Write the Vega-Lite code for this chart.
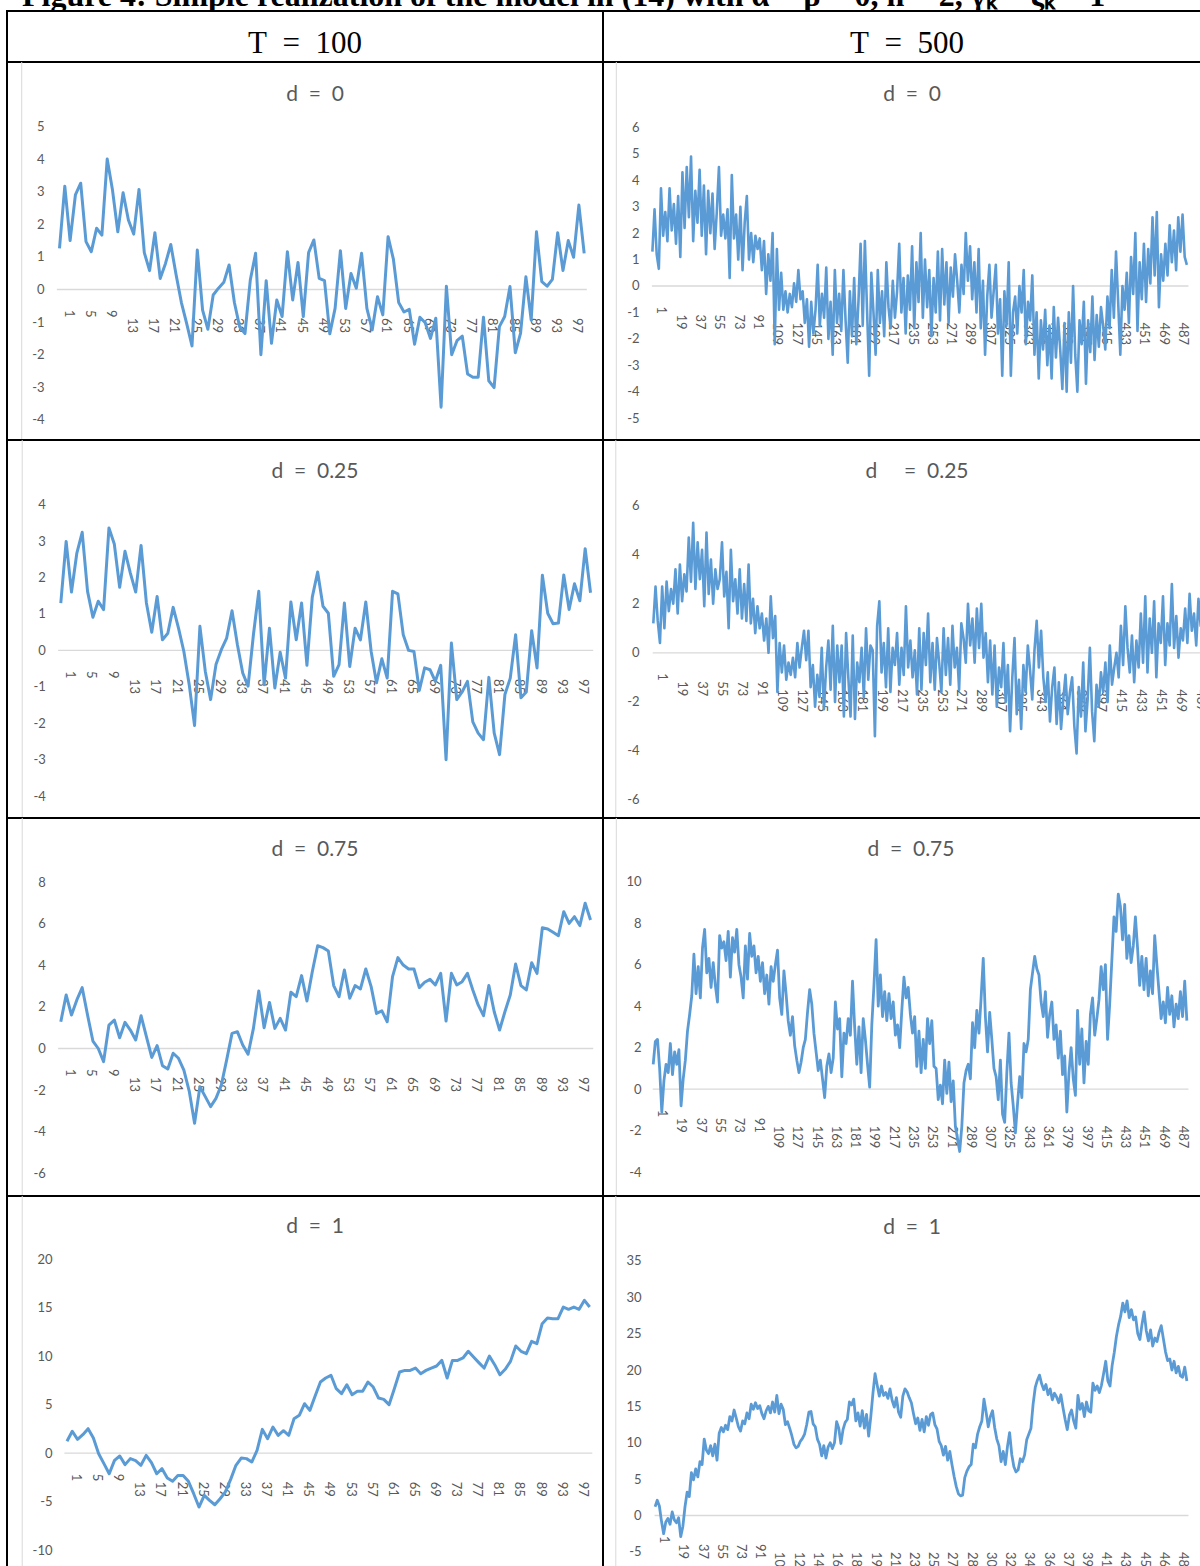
{
  "$schema": "https://vega.github.io/schema/vega-lite/v6.json",
  "usermeta": {"embedOptions": {"actions": false}},
  "background": "white",
  "padding": {"left": 6, "top": 0, "right": 0, "bottom": 0},
  "columns": 2,
  "spacing": 0,
  "bounds": "flush",
  "config": {
    "view": {"stroke": "#000000", "strokeWidth": 2},
    "axis": {"domain": false, "ticks": false, "tickSize": 0, "tickCount": 1000, "grid": false, "labelFont": "Lato", "labelFontSize": 13, "labelColor": "#595959", "labelOverlap": false, "labelFlush": false, "labelBound": false},
    "title": {"font": "Lato", "fontSize": 21, "fontWeight": "normal", "color": "#595959", "anchor": "middle", "frame": "group", "baseline": "alphabetic"},
    "concat": {"spacing": 0}
  },
  "datasets": {
    "r1l": [{"t":1,"v":1.26},{"t":2,"v":3.17},{"t":3,"v":1.5},{"t":4,"v":2.9},{"t":5,"v":3.26},{"t":6,"v":1.47},{"t":7,"v":1.16},{"t":8,"v":1.88},{"t":9,"v":1.67},{"t":10,"v":4.0},{"t":11,"v":3.05},{"t":12,"v":1.77},{"t":13,"v":2.97},{"t":14,"v":2.13},{"t":15,"v":1.7},{"t":16,"v":3.07},{"t":17,"v":1.13},{"t":18,"v":0.58},{"t":19,"v":1.74},{"t":20,"v":0.34},{"t":21,"v":0.8},{"t":22,"v":1.38},{"t":23,"v":0.45},{"t":24,"v":-0.4},{"t":25,"v":-1.05},{"t":26,"v":-1.73},{"t":27,"v":1.21},{"t":28,"v":-0.63},{"t":29,"v":-1.22},{"t":30,"v":-0.17},{"t":31,"v":0.04},{"t":32,"v":0.22},{"t":33,"v":0.75},{"t":34,"v":-0.4},{"t":35,"v":-1.15},{"t":36,"v":-1.35},{"t":37,"v":0.29},{"t":38,"v":1.11},{"t":39,"v":-2.0},{"t":40,"v":0.27},{"t":41,"v":-1.65},{"t":42,"v":-0.32},{"t":43,"v":-0.83},{"t":44,"v":1.16},{"t":45,"v":-0.32},{"t":46,"v":0.83},{"t":47,"v":-0.83},{"t":48,"v":1.13},{"t":49,"v":1.52},{"t":50,"v":0.34},{"t":51,"v":0.27},{"t":52,"v":-1.36},{"t":53,"v":-0.58},{"t":54,"v":1.19},{"t":55,"v":-0.58},{"t":56,"v":0.49},{"t":57,"v":0.04},{"t":58,"v":1.11},{"t":59,"v":-0.58},{"t":60,"v":-1.24},{"t":61,"v":-0.22},{"t":62,"v":-0.78},{"t":63,"v":1.62},{"t":64,"v":0.93},{"t":65,"v":-0.4},{"t":66,"v":-0.69},{"t":67,"v":-0.61},{"t":68,"v":-1.68},{"t":69,"v":-0.85},{"t":70,"v":-1.02},{"t":71,"v":-1.5},{"t":72,"v":-0.88},{"t":73,"v":-3.61},{"t":74,"v":0.1},{"t":75,"v":-2.0},{"t":76,"v":-1.57},{"t":77,"v":-1.43},{"t":78,"v":-2.59},{"t":79,"v":-2.69},{"t":80,"v":-2.69},{"t":81,"v":-0.85},{"t":82,"v":-2.8},{"t":83,"v":-3.01},{"t":84,"v":-1.14},{"t":85,"v":-0.83},{"t":86,"v":0.09},{"t":87,"v":-1.94},{"t":88,"v":-1.34},{"t":89,"v":0.39},{"t":90,"v":-0.94},{"t":91,"v":1.77},{"t":92,"v":0.24},{"t":93,"v":0.1},{"t":94,"v":0.31},{"t":95,"v":1.74},{"t":96,"v":0.58},{"t":97,"v":1.5},{"t":98,"v":0.99},{"t":99,"v":2.59},{"t":100,"v":1.11}],
    "r2l": [{"t":1,"v":1.3},{"t":2,"v":2.99},{"t":3,"v":1.6},{"t":4,"v":2.67},{"t":5,"v":3.24},{"t":6,"v":1.62},{"t":7,"v":0.91},{"t":8,"v":1.35},{"t":9,"v":1.12},{"t":10,"v":3.36},{"t":11,"v":2.92},{"t":12,"v":1.73},{"t":13,"v":2.72},{"t":14,"v":2.12},{"t":15,"v":1.6},{"t":16,"v":2.88},{"t":17,"v":1.3},{"t":18,"v":0.5},{"t":19,"v":1.48},{"t":20,"v":0.29},{"t":21,"v":0.47},{"t":22,"v":1.18},{"t":23,"v":0.61},{"t":24,"v":-0.03},{"t":25,"v":-0.94},{"t":26,"v":-2.06},{"t":27,"v":0.66},{"t":28,"v":-0.57},{"t":29,"v":-1.35},{"t":30,"v":-0.39},{"t":31,"v":0.02},{"t":32,"v":0.34},{"t":33,"v":1.09},{"t":34,"v":0.16},{"t":35,"v":-0.62},{"t":36,"v":-0.98},{"t":37,"v":0.43},{"t":38,"v":1.62},{"t":39,"v":-0.94},{"t":40,"v":0.61},{"t":41,"v":-1.03},{"t":42,"v":-0.05},{"t":43,"v":-0.76},{"t":44,"v":1.33},{"t":45,"v":0.29},{"t":46,"v":1.3},{"t":47,"v":-0.41},{"t":48,"v":1.46},{"t":49,"v":2.15},{"t":50,"v":1.21},{"t":51,"v":1.02},{"t":52,"v":-0.71},{"t":53,"v":-0.39},{"t":54,"v":1.3},{"t":55,"v":-0.44},{"t":56,"v":0.61},{"t":57,"v":0.29},{"t":58,"v":1.33},{"t":59,"v":-0.03},{"t":60,"v":-0.89},{"t":61,"v":-0.23},{"t":62,"v":-0.76},{"t":63,"v":1.62},{"t":64,"v":1.55},{"t":65,"v":0.43},{"t":66,"v":0.0},{"t":67,"v":-0.03},{"t":68,"v":-1.1},{"t":69,"v":-0.48},{"t":70,"v":-0.53},{"t":71,"v":-0.85},{"t":72,"v":-0.41},{"t":73,"v":-3.0},{"t":74,"v":0.2},{"t":75,"v":-1.35},{"t":76,"v":-1.14},{"t":77,"v":-0.85},{"t":78,"v":-1.96},{"t":79,"v":-2.27},{"t":80,"v":-2.45},{"t":81,"v":-0.74},{"t":82,"v":-2.27},{"t":83,"v":-2.86},{"t":84,"v":-1.21},{"t":85,"v":-0.76},{"t":86,"v":0.43},{"t":87,"v":-1.3},{"t":88,"v":-1.14},{"t":89,"v":0.54},{"t":90,"v":-0.48},{"t":91,"v":2.06},{"t":92,"v":1.02},{"t":93,"v":0.73},{"t":94,"v":0.75},{"t":95,"v":2.07},{"t":96,"v":1.12},{"t":97,"v":1.83},{"t":98,"v":1.36},{"t":99,"v":2.79},{"t":100,"v":1.58}],
    "r3l": [{"t":1,"v":1.29},{"t":2,"v":2.58},{"t":3,"v":1.61},{"t":4,"v":2.34},{"t":5,"v":2.93},{"t":6,"v":1.61},{"t":7,"v":0.36},{"t":8,"v":0.0},{"t":9,"v":-0.63},{"t":10,"v":1.13},{"t":11,"v":1.37},{"t":12,"v":0.52},{"t":13,"v":1.26},{"t":14,"v":0.89},{"t":15,"v":0.41},{"t":16,"v":1.58},{"t":17,"v":0.57},{"t":18,"v":-0.43},{"t":19,"v":0.14},{"t":20,"v":-0.83},{"t":21,"v":-0.99},{"t":22,"v":-0.23},{"t":23,"v":-0.47},{"t":24,"v":-1.04},{"t":25,"v":-2.05},{"t":26,"v":-3.6},{"t":27,"v":-1.84},{"t":28,"v":-2.32},{"t":29,"v":-2.8},{"t":30,"v":-2.4},{"t":31,"v":-1.76},{"t":32,"v":-0.55},{"t":33,"v":0.73},{"t":34,"v":0.81},{"t":35,"v":0.17},{"t":36,"v":-0.28},{"t":37,"v":0.97},{"t":38,"v":2.77},{"t":39,"v":1.0},{"t":40,"v":2.22},{"t":41,"v":0.97},{"t":42,"v":1.45},{"t":43,"v":0.89},{"t":44,"v":2.71},{"t":45,"v":2.5},{"t":46,"v":3.51},{"t":47,"v":2.29},{"t":48,"v":3.7},{"t":49,"v":4.95},{"t":50,"v":4.86},{"t":51,"v":4.7},{"t":52,"v":3.03},{"t":53,"v":2.5},{"t":54,"v":3.78},{"t":55,"v":2.42},{"t":56,"v":3.03},{"t":57,"v":2.87},{"t":58,"v":3.83},{"t":59,"v":2.98},{"t":60,"v":1.69},{"t":61,"v":1.81},{"t":62,"v":1.29},{"t":63,"v":3.46},{"t":64,"v":4.38},{"t":65,"v":4.02},{"t":66,"v":3.83},{"t":67,"v":3.83},{"t":68,"v":2.93},{"t":69,"v":3.19},{"t":70,"v":3.33},{"t":71,"v":3.06},{"t":72,"v":3.62},{"t":73,"v":1.32},{"t":74,"v":3.62},{"t":75,"v":3.06},{"t":76,"v":3.22},{"t":77,"v":3.62},{"t":78,"v":2.82},{"t":79,"v":2.1},{"t":80,"v":1.58},{"t":81,"v":3.03},{"t":82,"v":1.77},{"t":83,"v":0.89},{"t":84,"v":1.77},{"t":85,"v":2.58},{"t":86,"v":4.07},{"t":87,"v":3.03},{"t":88,"v":2.82},{"t":89,"v":4.13},{"t":90,"v":3.62},{"t":91,"v":5.82},{"t":92,"v":5.76},{"t":93,"v":5.6},{"t":94,"v":5.43},{"t":95,"v":6.59},{"t":96,"v":6.03},{"t":97,"v":6.35},{"t":98,"v":5.92},{"t":99,"v":7.0},{"t":100,"v":6.19}],
    "r4l": [{"t":1,"v":1.23},{"t":2,"v":2.27},{"t":3,"v":1.43},{"t":4,"v":1.91},{"t":5,"v":2.53},{"t":6,"v":1.57},{"t":7,"v":-0.05},{"t":8,"v":-1.08},{"t":9,"v":-2.12},{"t":10,"v":-0.74},{"t":11,"v":-0.29},{"t":12,"v":-1.18},{"t":13,"v":-0.56},{"t":14,"v":-0.77},{"t":15,"v":-1.25},{"t":16,"v":-0.22},{"t":17,"v":-0.98},{"t":18,"v":-2.12},{"t":19,"v":-1.6},{"t":20,"v":-2.56},{"t":21,"v":-2.9},{"t":22,"v":-2.29},{"t":23,"v":-2.29},{"t":24,"v":-2.9},{"t":25,"v":-4.18},{"t":26,"v":-5.56},{"t":27,"v":-4.35},{"t":28,"v":-4.87},{"t":29,"v":-5.32},{"t":30,"v":-4.7},{"t":31,"v":-4.0},{"t":32,"v":-2.7},{"t":33,"v":-1.25},{"t":34,"v":-0.5},{"t":35,"v":-0.56},{"t":36,"v":-0.91},{"t":37,"v":0.3},{"t":38,"v":2.46},{"t":39,"v":1.5},{"t":40,"v":2.7},{"t":41,"v":1.84},{"t":42,"v":2.32},{"t":43,"v":1.84},{"t":44,"v":3.56},{"t":45,"v":3.91},{"t":46,"v":5.11},{"t":47,"v":4.42},{"t":48,"v":5.9},{"t":49,"v":7.35},{"t":50,"v":7.76},{"t":51,"v":8.04},{"t":52,"v":6.66},{"t":53,"v":6.15},{"t":54,"v":7.07},{"t":55,"v":6.04},{"t":56,"v":6.39},{"t":57,"v":6.39},{"t":58,"v":7.35},{"t":59,"v":6.83},{"t":60,"v":5.7},{"t":61,"v":5.56},{"t":62,"v":5.01},{"t":63,"v":6.66},{"t":64,"v":8.38},{"t":65,"v":8.55},{"t":66,"v":8.55},{"t":67,"v":8.79},{"t":68,"v":8.21},{"t":69,"v":8.55},{"t":70,"v":8.79},{"t":71,"v":9.0},{"t":72,"v":9.58},{"t":73,"v":7.76},{"t":74,"v":9.58},{"t":75,"v":9.58},{"t":76,"v":9.83},{"t":77,"v":10.52},{"t":78,"v":9.93},{"t":79,"v":9.35},{"t":80,"v":8.79},{"t":81,"v":10.03},{"t":82,"v":9.14},{"t":83,"v":8.1},{"t":84,"v":8.66},{"t":85,"v":9.48},{"t":86,"v":11.07},{"t":87,"v":10.52},{"t":88,"v":10.28},{"t":89,"v":11.55},{"t":90,"v":11.31},{"t":91,"v":13.37},{"t":92,"v":13.96},{"t":93,"v":13.89},{"t":94,"v":13.89},{"t":95,"v":15.09},{"t":96,"v":14.85},{"t":97,"v":15.09},{"t":98,"v":14.85},{"t":99,"v":15.78},{"t":100,"v":15.09}],
    "r1r": [{"t":1,"v":1.3},{"t":3,"v":2.9},{"t":5,"v":1.2},{"t":7,"v":0.65},{"t":9,"v":3.7},{"t":11,"v":1.9},{"t":13,"v":2.8},{"t":15,"v":1.7},{"t":17,"v":3.7},{"t":19,"v":2.1},{"t":21,"v":3.1},{"t":23,"v":1.6},{"t":25,"v":3.4},{"t":27,"v":1.1},{"t":29,"v":4.3},{"t":31,"v":2.2},{"t":33,"v":4.5},{"t":35,"v":2.6},{"t":37,"v":4.9},{"t":39,"v":1.7},{"t":41,"v":3.6},{"t":43,"v":2.4},{"t":45,"v":4.4},{"t":47,"v":1.9},{"t":49,"v":3.8},{"t":51,"v":1.2},{"t":53,"v":3.6},{"t":55,"v":2.0},{"t":57,"v":3.5},{"t":59,"v":1.4},{"t":61,"v":2.8},{"t":63,"v":4.5},{"t":65,"v":1.9},{"t":67,"v":2.7},{"t":69,"v":1.8},{"t":71,"v":2.9},{"t":73,"v":0.3},{"t":75,"v":4.2},{"t":77,"v":1.8},{"t":79,"v":2.7},{"t":81,"v":1.0},{"t":83,"v":3.0},{"t":85,"v":0.6},{"t":87,"v":2.4},{"t":89,"v":3.4},{"t":91,"v":1.0},{"t":93,"v":2.0},{"t":95,"v":0.9},{"t":97,"v":1.9},{"t":99,"v":1.4},{"t":101,"v":1.8},{"t":103,"v":0.6},{"t":105,"v":1.7},{"t":107,"v":-0.3},{"t":109,"v":1.2},{"t":111,"v":0.2},{"t":113,"v":2.0},{"t":115,"v":-2.2},{"t":117,"v":1.4},{"t":119,"v":-0.9},{"t":121,"v":0.5},{"t":123,"v":-0.9},{"t":125,"v":-0.2},{"t":127,"v":-1.0},{"t":129,"v":-0.3},{"t":131,"v":-0.8},{"t":133,"v":0.1},{"t":135,"v":-0.6},{"t":137,"v":0.6},{"t":139,"v":-0.5},{"t":141,"v":-0.2},{"t":143,"v":-1.4},{"t":145,"v":-0.5},{"t":147,"v":-2.3},{"t":149,"v":-0.6},{"t":151,"v":-1.8},{"t":153,"v":-0.9},{"t":155,"v":0.8},{"t":157,"v":-1.5},{"t":159,"v":-0.3},{"t":161,"v":-1.2},{"t":163,"v":0.7},{"t":165,"v":-2.0},{"t":167,"v":-0.6},{"t":169,"v":-2.6},{"t":171,"v":0.6},{"t":173,"v":-1.4},{"t":175,"v":-0.3},{"t":177,"v":-1.7},{"t":179,"v":0.6},{"t":181,"v":-1.3},{"t":183,"v":-2.9},{"t":185,"v":-0.2},{"t":187,"v":-1.9},{"t":189,"v":0.3},{"t":191,"v":-2.2},{"t":193,"v":-0.6},{"t":195,"v":1.6},{"t":197,"v":-1.5},{"t":199,"v":1.7},{"t":201,"v":-0.9},{"t":203,"v":-3.4},{"t":205,"v":0.5},{"t":207,"v":-1.0},{"t":209,"v":-2.6},{"t":211,"v":0.6},{"t":213,"v":-1.4},{"t":215,"v":-0.2},{"t":217,"v":-1.9},{"t":219,"v":0.9},{"t":221,"v":-0.8},{"t":223,"v":-1.6},{"t":225,"v":0.2},{"t":227,"v":-1.2},{"t":229,"v":-0.2},{"t":231,"v":1.6},{"t":233,"v":-1.0},{"t":235,"v":0.3},{"t":237,"v":-1.8},{"t":239,"v":0.4},{"t":241,"v":-0.9},{"t":243,"v":1.5},{"t":245,"v":-1.6},{"t":247,"v":0.9},{"t":249,"v":-0.6},{"t":251,"v":2.0},{"t":253,"v":-1.2},{"t":255,"v":1.0},{"t":257,"v":-0.8},{"t":259,"v":0.6},{"t":261,"v":-1.9},{"t":263,"v":0.3},{"t":265,"v":-1.0},{"t":267,"v":1.3},{"t":269,"v":-1.3},{"t":271,"v":1.4},{"t":273,"v":-0.7},{"t":275,"v":0.9},{"t":277,"v":-1.4},{"t":279,"v":0.7},{"t":281,"v":-0.4},{"t":283,"v":1.2},{"t":285,"v":0.2},{"t":287,"v":-1.0},{"t":289,"v":0.8},{"t":291,"v":-0.3},{"t":293,"v":2.0},{"t":295,"v":0.2},{"t":297,"v":1.5},{"t":299,"v":-0.5},{"t":301,"v":0.9},{"t":303,"v":-1.0},{"t":305,"v":1.4},{"t":307,"v":-1.6},{"t":309,"v":0.2},{"t":311,"v":-2.6},{"t":313,"v":-0.4},{"t":315,"v":0.8},{"t":317,"v":-1.2},{"t":319,"v":-0.2},{"t":321,"v":0.8},{"t":323,"v":-1.8},{"t":325,"v":-0.5},{"t":327,"v":-3.4},{"t":329,"v":-0.2},{"t":331,"v":-1.5},{"t":333,"v":0.9},{"t":335,"v":-3.4},{"t":337,"v":-1.0},{"t":339,"v":-0.4},{"t":341,"v":-1.8},{"t":343,"v":0.0},{"t":345,"v":-1.0},{"t":347,"v":0.6},{"t":349,"v":-2.2},{"t":351,"v":-0.6},{"t":353,"v":-1.3},{"t":355,"v":0.4},{"t":357,"v":-2.6},{"t":359,"v":-1.0},{"t":361,"v":-3.5},{"t":363,"v":-1.3},{"t":365,"v":-2.4},{"t":367,"v":-0.9},{"t":369,"v":-3.0},{"t":371,"v":-1.5},{"t":373,"v":-3.5},{"t":375,"v":-0.8},{"t":377,"v":-2.7},{"t":379,"v":-1.2},{"t":381,"v":-2.4},{"t":383,"v":-3.9},{"t":385,"v":-1.4},{"t":387,"v":-4.0},{"t":389,"v":-1.0},{"t":391,"v":-2.9},{"t":393,"v":0.0},{"t":395,"v":-2.6},{"t":397,"v":-4.0},{"t":399,"v":-1.3},{"t":401,"v":-2.2},{"t":403,"v":-0.6},{"t":405,"v":-3.7},{"t":407,"v":-1.3},{"t":409,"v":-2.5},{"t":411,"v":-0.4},{"t":413,"v":-2.8},{"t":415,"v":-1.1},{"t":417,"v":-2.3},{"t":419,"v":-0.8},{"t":421,"v":-1.5},{"t":423,"v":-2.4},{"t":425,"v":-0.4},{"t":427,"v":-1.6},{"t":429,"v":0.6},{"t":431,"v":-1.2},{"t":433,"v":1.3},{"t":435,"v":-0.6},{"t":437,"v":-2.6},{"t":439,"v":0.0},{"t":441,"v":-0.9},{"t":443,"v":0.5},{"t":445,"v":-1.4},{"t":447,"v":1.1},{"t":449,"v":-0.3},{"t":451,"v":2.0},{"t":453,"v":-1.7},{"t":455,"v":0.9},{"t":457,"v":-0.5},{"t":459,"v":1.6},{"t":461,"v":-0.6},{"t":463,"v":1.4},{"t":465,"v":0.1},{"t":467,"v":2.6},{"t":469,"v":0.4},{"t":471,"v":2.8},{"t":473,"v":-0.8},{"t":475,"v":1.2},{"t":477,"v":0.2},{"t":479,"v":1.6},{"t":481,"v":0.4},{"t":483,"v":2.3},{"t":485,"v":0.9},{"t":487,"v":2.1},{"t":489,"v":0.6},{"t":491,"v":2.6},{"t":493,"v":1.3},{"t":495,"v":2.7},{"t":497,"v":1.1},{"t":499,"v":0.8}],
    "r2r": [{"t":1,"v":1.2},{"t":3,"v":2.7},{"t":5,"v":1.3},{"t":7,"v":0.4},{"t":9,"v":2.7},{"t":11,"v":1.0},{"t":13,"v":2.9},{"t":15,"v":1.7},{"t":17,"v":2.6},{"t":19,"v":2.0},{"t":21,"v":3.4},{"t":23,"v":1.6},{"t":25,"v":3.6},{"t":27,"v":2.1},{"t":29,"v":3.2},{"t":31,"v":2.5},{"t":33,"v":4.7},{"t":35,"v":2.9},{"t":37,"v":5.3},{"t":39,"v":2.6},{"t":41,"v":4.5},{"t":43,"v":3.0},{"t":45,"v":4.2},{"t":47,"v":1.9},{"t":49,"v":4.9},{"t":51,"v":2.4},{"t":53,"v":3.8},{"t":55,"v":2.0},{"t":57,"v":3.4},{"t":59,"v":2.6},{"t":61,"v":3.0},{"t":63,"v":4.5},{"t":65,"v":2.3},{"t":67,"v":3.3},{"t":69,"v":1.0},{"t":71,"v":4.2},{"t":73,"v":2.1},{"t":75,"v":3.0},{"t":77,"v":1.6},{"t":79,"v":3.4},{"t":81,"v":1.4},{"t":83,"v":2.8},{"t":85,"v":1.3},{"t":87,"v":3.6},{"t":89,"v":1.2},{"t":91,"v":2.2},{"t":93,"v":0.8},{"t":95,"v":1.9},{"t":97,"v":1.0},{"t":99,"v":1.6},{"t":101,"v":0.5},{"t":103,"v":1.4},{"t":105,"v":0.0},{"t":107,"v":2.3},{"t":109,"v":0.6},{"t":111,"v":1.5},{"t":113,"v":-1.6},{"t":115,"v":0.4},{"t":117,"v":-0.8},{"t":119,"v":0.3},{"t":121,"v":-1.1},{"t":123,"v":-0.4},{"t":125,"v":-0.9},{"t":127,"v":-0.2},{"t":129,"v":-1.0},{"t":131,"v":0.4},{"t":133,"v":-0.6},{"t":135,"v":0.2},{"t":137,"v":0.9},{"t":139,"v":-0.3},{"t":141,"v":0.9},{"t":143,"v":-1.4},{"t":145,"v":-0.5},{"t":147,"v":-2.2},{"t":149,"v":-0.9},{"t":151,"v":-1.8},{"t":153,"v":0.2},{"t":155,"v":-2.3},{"t":157,"v":-0.6},{"t":159,"v":0.5},{"t":161,"v":-1.5},{"t":163,"v":1.1},{"t":165,"v":-2.0},{"t":167,"v":0.3},{"t":169,"v":-1.2},{"t":171,"v":0.3},{"t":173,"v":-2.6},{"t":175,"v":0.8},{"t":177,"v":-1.0},{"t":179,"v":-2.6},{"t":181,"v":0.7},{"t":183,"v":-2.7},{"t":185,"v":-0.4},{"t":187,"v":-1.2},{"t":189,"v":0.2},{"t":191,"v":-1.8},{"t":193,"v":1.0},{"t":195,"v":-1.1},{"t":197,"v":0.3},{"t":199,"v":0.1},{"t":201,"v":-3.4},{"t":203,"v":1.1},{"t":205,"v":2.1},{"t":207,"v":-0.8},{"t":209,"v":0.4},{"t":211,"v":-1.4},{"t":213,"v":1.0},{"t":215,"v":-1.6},{"t":217,"v":0.2},{"t":219,"v":-0.5},{"t":221,"v":0.8},{"t":223,"v":-1.3},{"t":225,"v":0.2},{"t":227,"v":-0.9},{"t":229,"v":1.9},{"t":231,"v":-0.6},{"t":233,"v":0.5},{"t":235,"v":-1.0},{"t":237,"v":0.1},{"t":239,"v":-1.7},{"t":241,"v":1.0},{"t":243,"v":-1.5},{"t":245,"v":0.8},{"t":247,"v":-0.5},{"t":249,"v":1.6},{"t":251,"v":-1.2},{"t":253,"v":0.4},{"t":255,"v":-1.5},{"t":257,"v":0.6},{"t":259,"v":-0.4},{"t":261,"v":-1.6},{"t":263,"v":1.0},{"t":265,"v":-0.9},{"t":267,"v":0.6},{"t":269,"v":-1.3},{"t":271,"v":1.1},{"t":273,"v":-0.6},{"t":275,"v":0.2},{"t":277,"v":-1.5},{"t":279,"v":1.2},{"t":281,"v":0.6},{"t":283,"v":-0.4},{"t":285,"v":2.0},{"t":287,"v":0.3},{"t":289,"v":1.4},{"t":291,"v":-0.4},{"t":293,"v":1.8},{"t":295,"v":0.2},{"t":297,"v":2.0},{"t":299,"v":-0.2},{"t":301,"v":0.8},{"t":303,"v":-1.2},{"t":305,"v":0.5},{"t":307,"v":-1.7},{"t":309,"v":0.3},{"t":311,"v":-2.2},{"t":313,"v":-0.6},{"t":315,"v":-1.4},{"t":317,"v":0.4},{"t":319,"v":-2.0},{"t":321,"v":-0.5},{"t":323,"v":-3.2},{"t":325,"v":-1.0},{"t":327,"v":0.6},{"t":329,"v":-2.5},{"t":331,"v":-1.1},{"t":333,"v":-3.1},{"t":335,"v":-0.5},{"t":337,"v":-1.6},{"t":339,"v":0.3},{"t":341,"v":-0.7},{"t":343,"v":-1.9},{"t":345,"v":0.1},{"t":347,"v":1.3},{"t":349,"v":-0.6},{"t":351,"v":0.9},{"t":353,"v":-1.0},{"t":355,"v":-2.0},{"t":357,"v":-0.8},{"t":359,"v":-2.8},{"t":361,"v":-1.4},{"t":363,"v":-0.6},{"t":365,"v":-2.9},{"t":367,"v":-1.2},{"t":369,"v":-3.1},{"t":371,"v":-1.9},{"t":373,"v":-0.9},{"t":375,"v":-2.5},{"t":377,"v":-1.6},{"t":379,"v":-1.0},{"t":381,"v":-3.0},{"t":383,"v":-4.1},{"t":385,"v":-1.4},{"t":387,"v":-2.6},{"t":389,"v":-0.4},{"t":391,"v":-3.2},{"t":393,"v":-1.9},{"t":395,"v":0.2},{"t":397,"v":-2.4},{"t":399,"v":-3.6},{"t":401,"v":-1.3},{"t":403,"v":-2.2},{"t":405,"v":-0.8},{"t":407,"v":-1.6},{"t":409,"v":-0.4},{"t":411,"v":-2.0},{"t":413,"v":0.3},{"t":415,"v":-1.3},{"t":417,"v":-0.6},{"t":419,"v":0.0},{"t":421,"v":-1.0},{"t":423,"v":1.1},{"t":425,"v":-0.5},{"t":427,"v":1.9},{"t":429,"v":0.2},{"t":431,"v":-0.8},{"t":433,"v":0.7},{"t":435,"v":-1.2},{"t":437,"v":0.5},{"t":439,"v":-0.6},{"t":441,"v":1.6},{"t":443,"v":-0.4},{"t":445,"v":2.3},{"t":447,"v":-0.8},{"t":449,"v":1.4},{"t":451,"v":0.0},{"t":453,"v":2.1},{"t":455,"v":-1.0},{"t":457,"v":1.2},{"t":459,"v":0.4},{"t":461,"v":2.3},{"t":463,"v":-0.5},{"t":465,"v":1.2},{"t":467,"v":0.3},{"t":469,"v":2.8},{"t":471,"v":0.2},{"t":473,"v":1.5},{"t":475,"v":-0.2},{"t":477,"v":1.0},{"t":479,"v":0.5},{"t":481,"v":1.8},{"t":483,"v":0.4},{"t":485,"v":2.4},{"t":487,"v":0.9},{"t":489,"v":1.6},{"t":491,"v":0.3},{"t":493,"v":2.2},{"t":495,"v":1.1},{"t":497,"v":1.7},{"t":499,"v":1.0}],
    "r3r": [{"t":1,"v":1.2},{"t":3,"v":2.3},{"t":5,"v":2.4},{"t":7,"v":1.0},{"t":9,"v":-1.1},{"t":11,"v":0.4},{"t":13,"v":1.2},{"t":15,"v":0.8},{"t":17,"v":2.2},{"t":19,"v":0.7},{"t":21,"v":1.8},{"t":23,"v":1.2},{"t":25,"v":1.9},{"t":27,"v":-0.8},{"t":29,"v":0.5},{"t":31,"v":1.4},{"t":33,"v":2.8},{"t":35,"v":3.6},{"t":37,"v":4.5},{"t":39,"v":6.5},{"t":41,"v":4.6},{"t":43,"v":5.9},{"t":45,"v":4.4},{"t":47,"v":6.8},{"t":49,"v":7.7},{"t":51,"v":5.6},{"t":53,"v":6.3},{"t":55,"v":4.9},{"t":57,"v":6.1},{"t":59,"v":5.0},{"t":61,"v":4.2},{"t":63,"v":7.4},{"t":65,"v":6.8},{"t":67,"v":7.1},{"t":69,"v":6.2},{"t":71,"v":7.6},{"t":73,"v":5.4},{"t":75,"v":7.3},{"t":77,"v":6.6},{"t":79,"v":7.7},{"t":81,"v":6.0},{"t":83,"v":5.4},{"t":85,"v":4.4},{"t":87,"v":6.9},{"t":89,"v":5.3},{"t":91,"v":7.5},{"t":93,"v":6.4},{"t":95,"v":6.9},{"t":97,"v":5.6},{"t":99,"v":6.4},{"t":101,"v":5.2},{"t":103,"v":6.1},{"t":105,"v":4.6},{"t":107,"v":5.5},{"t":109,"v":4.1},{"t":111,"v":5.9},{"t":113,"v":5.2},{"t":115,"v":6.0},{"t":117,"v":6.7},{"t":119,"v":4.4},{"t":121,"v":3.6},{"t":123,"v":5.7},{"t":125,"v":4.6},{"t":127,"v":3.3},{"t":129,"v":2.6},{"t":131,"v":3.5},{"t":133,"v":2.1},{"t":135,"v":1.4},{"t":137,"v":0.8},{"t":139,"v":1.3},{"t":141,"v":2.0},{"t":143,"v":2.4},{"t":145,"v":3.7},{"t":147,"v":4.8},{"t":149,"v":4.1},{"t":151,"v":2.7},{"t":153,"v":1.8},{"t":155,"v":0.9},{"t":157,"v":1.4},{"t":159,"v":0.5},{"t":161,"v":-0.4},{"t":163,"v":1.1},{"t":165,"v":1.7},{"t":167,"v":0.8},{"t":169,"v":1.5},{"t":171,"v":4.2},{"t":173,"v":2.9},{"t":175,"v":3.4},{"t":177,"v":0.6},{"t":179,"v":2.7},{"t":181,"v":2.2},{"t":183,"v":3.4},{"t":185,"v":2.6},{"t":187,"v":5.2},{"t":189,"v":3.0},{"t":191,"v":1.2},{"t":193,"v":3.0},{"t":195,"v":0.8},{"t":197,"v":3.4},{"t":199,"v":2.4},{"t":201,"v":1.2},{"t":203,"v":0.1},{"t":205,"v":3.1},{"t":207,"v":5.0},{"t":209,"v":7.2},{"t":211,"v":4.0},{"t":213,"v":5.5},{"t":215,"v":3.5},{"t":217,"v":4.7},{"t":219,"v":3.3},{"t":221,"v":4.6},{"t":223,"v":3.4},{"t":225,"v":4.2},{"t":227,"v":2.6},{"t":229,"v":3.1},{"t":231,"v":2.0},{"t":233,"v":3.8},{"t":235,"v":5.4},{"t":237,"v":4.4},{"t":239,"v":4.9},{"t":241,"v":3.6},{"t":243,"v":2.7},{"t":245,"v":3.5},{"t":247,"v":1.1},{"t":249,"v":2.8},{"t":251,"v":0.8},{"t":253,"v":2.4},{"t":255,"v":1.0},{"t":257,"v":3.4},{"t":259,"v":2.2},{"t":261,"v":3.3},{"t":263,"v":1.1},{"t":265,"v":1.0},{"t":267,"v":-0.5},{"t":269,"v":0.2},{"t":271,"v":-0.7},{"t":273,"v":1.4},{"t":275,"v":-0.2},{"t":277,"v":1.3},{"t":279,"v":-0.6},{"t":281,"v":0.4},{"t":283,"v":-1.8},{"t":285,"v":-2.4},{"t":287,"v":-3.0},{"t":289,"v":-1.8},{"t":291,"v":0.3},{"t":293,"v":0.9},{"t":295,"v":1.2},{"t":297,"v":0.5},{"t":299,"v":3.2},{"t":301,"v":2.0},{"t":303,"v":3.8},{"t":305,"v":2.7},{"t":307,"v":4.4},{"t":309,"v":6.3},{"t":311,"v":3.5},{"t":313,"v":1.8},{"t":315,"v":3.7},{"t":317,"v":2.4},{"t":319,"v":1.0},{"t":321,"v":0.6},{"t":323,"v":-0.5},{"t":325,"v":1.4},{"t":327,"v":-1.2},{"t":329,"v":-1.6},{"t":331,"v":0.8},{"t":333,"v":2.7},{"t":335,"v":0.3},{"t":337,"v":-0.8},{"t":339,"v":-2.1},{"t":341,"v":-0.7},{"t":343,"v":0.6},{"t":345,"v":-0.4},{"t":347,"v":2.2},{"t":349,"v":1.8},{"t":351,"v":2.4},{"t":353,"v":4.8},{"t":355,"v":5.6},{"t":357,"v":6.4},{"t":359,"v":5.8},{"t":361,"v":5.5},{"t":363,"v":4.2},{"t":365,"v":3.5},{"t":367,"v":4.7},{"t":369,"v":2.5},{"t":371,"v":3.6},{"t":373,"v":4.2},{"t":375,"v":2.4},{"t":377,"v":3.1},{"t":379,"v":1.5},{"t":381,"v":2.8},{"t":383,"v":0.7},{"t":385,"v":1.6},{"t":387,"v":-1.1},{"t":389,"v":0.8},{"t":391,"v":2.0},{"t":393,"v":0.5},{"t":395,"v":-0.3},{"t":397,"v":3.8},{"t":399,"v":1.2},{"t":401,"v":2.9},{"t":403,"v":0.3},{"t":405,"v":2.3},{"t":407,"v":1.2},{"t":409,"v":3.6},{"t":411,"v":4.4},{"t":413,"v":2.6},{"t":415,"v":3.4},{"t":417,"v":4.3},{"t":419,"v":5.9},{"t":421,"v":4.8},{"t":423,"v":6.0},{"t":425,"v":2.4},{"t":427,"v":4.1},{"t":429,"v":6.2},{"t":431,"v":8.3},{"t":433,"v":7.6},{"t":435,"v":9.4},{"t":437,"v":8.8},{"t":439,"v":7.2},{"t":441,"v":8.9},{"t":443,"v":6.3},{"t":445,"v":7.4},{"t":447,"v":6.1},{"t":449,"v":6.9},{"t":451,"v":8.3},{"t":453,"v":6.8},{"t":455,"v":5.0},{"t":457,"v":6.4},{"t":459,"v":4.8},{"t":461,"v":6.3},{"t":463,"v":4.5},{"t":465,"v":5.7},{"t":467,"v":4.6},{"t":469,"v":7.4},{"t":471,"v":6.0},{"t":473,"v":4.7},{"t":475,"v":3.4},{"t":477,"v":4.2},{"t":479,"v":3.2},{"t":481,"v":4.9},{"t":483,"v":3.6},{"t":485,"v":4.5},{"t":487,"v":3.0},{"t":489,"v":4.1},{"t":491,"v":3.4},{"t":493,"v":4.7},{"t":495,"v":3.5},{"t":497,"v":5.2},{"t":499,"v":3.3}],
    "r4r": [{"t":1,"v":1.2},{"t":3,"v":2.1},{"t":5,"v":1.3},{"t":7,"v":-0.8},{"t":9,"v":-2.5},{"t":11,"v":-0.9},{"t":13,"v":-0.4},{"t":15,"v":-1.2},{"t":17,"v":0.5},{"t":19,"v":-0.6},{"t":21,"v":-1.0},{"t":23,"v":-0.3},{"t":25,"v":-2.9},{"t":27,"v":-1.5},{"t":29,"v":1.2},{"t":31,"v":3.2},{"t":33,"v":2.6},{"t":35,"v":5.9},{"t":37,"v":4.9},{"t":39,"v":6.4},{"t":41,"v":5.3},{"t":43,"v":7.4},{"t":45,"v":7.0},{"t":47,"v":10.5},{"t":49,"v":9.0},{"t":51,"v":8.5},{"t":53,"v":9.6},{"t":55,"v":8.2},{"t":57,"v":9.8},{"t":59,"v":7.6},{"t":61,"v":11.3},{"t":63,"v":12.1},{"t":65,"v":11.5},{"t":67,"v":12.4},{"t":69,"v":11.8},{"t":71,"v":13.6},{"t":73,"v":13.0},{"t":75,"v":14.5},{"t":77,"v":13.4},{"t":79,"v":12.2},{"t":81,"v":11.6},{"t":83,"v":13.0},{"t":85,"v":12.6},{"t":87,"v":14.1},{"t":89,"v":13.3},{"t":91,"v":15.3},{"t":93,"v":14.6},{"t":95,"v":15.5},{"t":97,"v":14.7},{"t":99,"v":15.1},{"t":101,"v":14.0},{"t":103,"v":13.3},{"t":105,"v":14.4},{"t":107,"v":15.0},{"t":109,"v":14.1},{"t":111,"v":15.6},{"t":113,"v":14.2},{"t":115,"v":16.5},{"t":117,"v":14.0},{"t":119,"v":15.3},{"t":121,"v":14.6},{"t":123,"v":12.5},{"t":125,"v":12.9},{"t":127,"v":12.0},{"t":129,"v":11.0},{"t":131,"v":9.8},{"t":133,"v":9.3},{"t":135,"v":9.5},{"t":137,"v":10.2},{"t":139,"v":10.6},{"t":141,"v":11.2},{"t":143,"v":12.5},{"t":145,"v":14.2},{"t":147,"v":14.3},{"t":149,"v":12.6},{"t":151,"v":12.2},{"t":153,"v":10.5},{"t":155,"v":9.8},{"t":157,"v":8.2},{"t":159,"v":9.6},{"t":161,"v":7.9},{"t":163,"v":9.4},{"t":165,"v":10.0},{"t":167,"v":9.2},{"t":169,"v":10.0},{"t":171,"v":12.9},{"t":173,"v":12.0},{"t":175,"v":9.9},{"t":177,"v":11.8},{"t":179,"v":12.8},{"t":181,"v":13.2},{"t":183,"v":15.6},{"t":185,"v":15.2},{"t":187,"v":16.0},{"t":189,"v":13.0},{"t":191,"v":14.1},{"t":193,"v":12.3},{"t":195,"v":14.4},{"t":197,"v":12.0},{"t":199,"v":13.9},{"t":201,"v":10.9},{"t":203,"v":13.6},{"t":205,"v":16.8},{"t":207,"v":19.5},{"t":209,"v":17.9},{"t":211,"v":16.4},{"t":213,"v":17.8},{"t":215,"v":16.5},{"t":217,"v":16.9},{"t":219,"v":16.1},{"t":221,"v":17.4},{"t":223,"v":15.8},{"t":225,"v":14.9},{"t":227,"v":16.2},{"t":229,"v":14.2},{"t":231,"v":13.5},{"t":233,"v":16.4},{"t":235,"v":17.4},{"t":237,"v":17.0},{"t":239,"v":16.2},{"t":241,"v":15.5},{"t":243,"v":14.0},{"t":245,"v":12.6},{"t":247,"v":13.4},{"t":249,"v":11.7},{"t":251,"v":13.2},{"t":253,"v":11.5},{"t":255,"v":13.6},{"t":257,"v":12.4},{"t":259,"v":13.9},{"t":261,"v":14.1},{"t":263,"v":12.5},{"t":265,"v":11.9},{"t":267,"v":10.2},{"t":269,"v":9.6},{"t":271,"v":8.3},{"t":273,"v":9.5},{"t":275,"v":7.6},{"t":277,"v":8.8},{"t":279,"v":7.0},{"t":281,"v":5.4},{"t":283,"v":4.0},{"t":285,"v":3.0},{"t":287,"v":2.7},{"t":289,"v":2.8},{"t":291,"v":5.2},{"t":293,"v":6.1},{"t":295,"v":6.7},{"t":297,"v":7.0},{"t":299,"v":9.8},{"t":301,"v":9.3},{"t":303,"v":11.2},{"t":305,"v":12.2},{"t":307,"v":13.0},{"t":309,"v":16.0},{"t":311,"v":14.2},{"t":313,"v":12.2},{"t":315,"v":13.6},{"t":317,"v":14.4},{"t":319,"v":12.1},{"t":321,"v":10.5},{"t":323,"v":9.6},{"t":325,"v":7.4},{"t":327,"v":8.8},{"t":329,"v":7.0},{"t":331,"v":9.5},{"t":333,"v":11.4},{"t":335,"v":8.4},{"t":337,"v":6.7},{"t":339,"v":6.0},{"t":341,"v":6.3},{"t":343,"v":7.8},{"t":345,"v":7.4},{"t":347,"v":8.3},{"t":349,"v":10.4},{"t":351,"v":11.2},{"t":353,"v":12.0},{"t":355,"v":15.3},{"t":357,"v":17.6},{"t":359,"v":18.6},{"t":361,"v":19.3},{"t":363,"v":18.1},{"t":365,"v":17.3},{"t":367,"v":18.0},{"t":369,"v":16.6},{"t":371,"v":17.4},{"t":373,"v":15.9},{"t":375,"v":16.8},{"t":377,"v":16.3},{"t":379,"v":15.5},{"t":381,"v":16.6},{"t":383,"v":14.8},{"t":385,"v":13.2},{"t":387,"v":11.8},{"t":389,"v":13.8},{"t":391,"v":14.5},{"t":393,"v":13.0},{"t":395,"v":12.0},{"t":397,"v":16.5},{"t":399,"v":14.6},{"t":401,"v":15.4},{"t":403,"v":13.6},{"t":405,"v":15.6},{"t":407,"v":14.4},{"t":409,"v":14.2},{"t":411,"v":18.2},{"t":413,"v":17.2},{"t":415,"v":17.8},{"t":417,"v":16.9},{"t":419,"v":17.9},{"t":421,"v":19.5},{"t":423,"v":21.2},{"t":425,"v":18.5},{"t":427,"v":17.8},{"t":429,"v":20.6},{"t":431,"v":22.4},{"t":433,"v":24.6},{"t":435,"v":26.2},{"t":437,"v":27.4},{"t":439,"v":29.2},{"t":441,"v":28.0},{"t":443,"v":29.5},{"t":445,"v":27.2},{"t":447,"v":28.3},{"t":449,"v":26.9},{"t":451,"v":27.3},{"t":453,"v":25.0},{"t":455,"v":24.2},{"t":457,"v":26.3},{"t":459,"v":28.0},{"t":461,"v":25.4},{"t":463,"v":24.0},{"t":465,"v":25.5},{"t":467,"v":23.3},{"t":469,"v":24.4},{"t":471,"v":23.9},{"t":473,"v":25.2},{"t":475,"v":26.1},{"t":477,"v":24.3},{"t":479,"v":22.5},{"t":481,"v":21.3},{"t":483,"v":21.5},{"t":485,"v":20.0},{"t":487,"v":21.2},{"t":489,"v":19.6},{"t":491,"v":20.5},{"t":493,"v":19.2},{"t":495,"v":19.0},{"t":497,"v":20.4},{"t":499,"v":18.5}]
  },
  "concat": [
    {
      "width": 596, "height": 11,
      "view": {"stroke": null},
      "data": {"values": [{"s": "Figure 4: Simple realization of the model in (14) with α = β = 0, n = 2, γₖ = ζₖ = 1"}]},
      "mark": {"type": "text", "font": "Liberation Serif", "fontSize": 32, "fontWeight": "bold", "align": "left", "baseline": "alphabetic", "dx": 15, "dy": -5, "clip": true, "color": "#000000"},
      "encoding": {
        "x": {"datum": 0, "type": "quantitative", "scale": {"domain": [0, 1]}, "axis": null},
        "y": {"datum": 0, "type": "quantitative", "scale": {"domain": [0, 1]}, "axis": null},
        "text": {"field": "s"}
      }
    },
    {
      "width": 600, "height": 11,
      "view": {"stroke": null},
      "data": {"values": [{"s": "Figure 4: Simple realization of the model in (14) with α = β = 0, n = 2, γₖ = ζₖ = 1"}]},
      "mark": {"type": "text", "font": "Liberation Serif", "fontSize": 32, "fontWeight": "bold", "align": "left", "baseline": "alphabetic", "dx": -581, "dy": -5, "clip": true, "color": "#000000"},
      "encoding": {
        "x": {"datum": 0, "type": "quantitative", "scale": {"domain": [0, 1]}, "axis": null},
        "y": {"datum": 0, "type": "quantitative", "scale": {"domain": [0, 1]}, "axis": null},
        "text": {"field": "s"}
      }
    },
    {"width": 596, "height": 51, "data": {"values": [{"h": "T\u00a0\u00a0=\u00a0\u00a0100"}]},
     "mark": {"type": "text", "font": "Liberation Serif", "fontSize": 31, "baseline": "alphabetic", "dy": 16, "color": "#000000"},
     "encoding": {
       "x": {"datum": 0.5, "type": "quantitative", "scale": {"domain": [0, 1]}, "axis": null},
       "y": {"datum": 0.5, "type": "quantitative", "scale": {"domain": [0, 1]}, "axis": null},
       "text": {"field": "h"}}},
    {"width": 600, "height": 51, "data": {"values": [{"h": "T\u00a0\u00a0=\u00a0\u00a0500"}]},
     "mark": {"type": "text", "font": "Liberation Serif", "fontSize": 31, "baseline": "alphabetic", "dy": 16, "dx": 4, "color": "#000000"},
     "encoding": {
       "x": {"datum": 0.5, "type": "quantitative", "scale": {"domain": [0, 1]}, "axis": null},
       "y": {"datum": 0.5, "type": "quantitative", "scale": {"domain": [0, 1]}, "axis": null},
       "text": {"field": "h"}}},
    {"width": 596, "height": 378, "title": {"text": "d\u00a0\u00a0=\u00a0\u00a00", "offset": -43, "dx": 10},
     "layer": [
       {"data": {"values": [{}]}, "mark": {"type": "rule", "color": "#d9d9d9", "strokeWidth": 1},
        "encoding": {"x": {"datum": -6.13, "type": "quantitative", "scale": {"domain": [-8.906, 103.55], "nice": false, "zero": false}}}},
       {"data": {"values": [{}]}, "mark": {"type": "rule", "color": "#d9d9d9", "strokeWidth": 1.3},
        "encoding": {"x": {"datum": 0.5, "type": "quantitative", "scale": {"domain": [-8.906, 103.55], "nice": false, "zero": false}}, "x2": {"datum": 100.5},
                     "y": {"datum": 0, "type": "quantitative", "scale": {"domain": [-4.617, 6.979], "nice": false, "zero": false}}}},
       {"data": {"name": "r1l"}, "mark": {"type": "line", "color": "#5b9bd5", "strokeWidth": 3, "strokeJoin": "round", "clip": true},
        "encoding": {
          "x": {"field": "t", "type": "quantitative", "scale": {"domain": [-8.906, 103.55], "nice": false, "zero": false},
                "axis": {"title": null, "values": [1,5,9,13,17,21,25,29,33,37,41,45,49,53,57,61,65,69,73,77,81,85,89,93,97], "tickCount": 1000, "format": "d", "offset": -150.5, "labelAngle": 90, "labelOffset": 8.5, "labelPadding": {"expr": "datum.value < 10 ? 20 : datum.value < 100 ? 28 : 36"}, "labelFlush": false, "labelOverlap": false}},
          "y": {"field": "v", "type": "quantitative", "scale": {"domain": [-4.617, 6.979], "nice": false, "zero": false},
                "axis": {"title": null, "values": [-4,-3,-2,-1,0,1,2,3,4,5], "tickCount": 1000, "offset": -37, "labelPadding": 0, "labelExpr": "'' + datum.value", "labelFlush": false, "labelOverlap": false}}
        }}
     ]},
    {"width": 600, "height": 378, "title": {"text": "d\u00a0\u00a0=\u00a0\u00a00", "offset": -43, "dx": 9},
     "layer": [
       {"data": {"values": [{}]}, "mark": {"type": "rule", "color": "#d9d9d9", "strokeWidth": 1},
        "encoding": {"x": {"datum": -32.64, "type": "quantitative", "scale": {"domain": [-45.03, 514.05], "nice": false, "zero": false}}}},
       {"data": {"values": [{}]}, "mark": {"type": "rule", "color": "#d9d9d9", "strokeWidth": 1.3, "clip": true},
        "encoding": {"x": {"datum": 0.5, "type": "quantitative", "scale": {"domain": [-45.03, 514.05], "nice": false, "zero": false}}, "x2": {"datum": 500.5},
                     "y": {"datum": 0, "type": "quantitative", "scale": {"domain": [-5.829, 8.478], "nice": false, "zero": false}}}},
       {"data": {"name": "r1r"}, "mark": {"type": "line", "color": "#5b9bd5", "strokeWidth": 2.6, "strokeJoin": "round", "clip": true},
        "encoding": {
          "x": {"field": "t", "type": "quantitative", "scale": {"domain": [-45.03, 514.05], "nice": false, "zero": false},
                "axis": {"title": null, "values": [1,19,37,55,73,91,109,127,145,163,181,199,217,235,253,271,289,307,325,343,361,379,397,415,433,451,469,487], "tickCount": 1000, "format": "d", "offset": -154, "labelAngle": 90, "labelOffset": 8.5, "labelPadding": {"expr": "datum.value < 10 ? 20 : datum.value < 100 ? 28 : 36"}, "labelFlush": false, "labelOverlap": false}},
          "y": {"field": "v", "type": "quantitative", "scale": {"domain": [-5.829, 8.478], "nice": false, "zero": false},
                "axis": {"title": null, "values": [-5,-4,-3,-2,-1,0,1,2,3,4,5,6], "tickCount": 1000, "offset": -36, "labelPadding": 0, "labelExpr": "'' + datum.value", "labelFlush": false, "labelOverlap": false}}
        }}
     ]},
    {"width": 596, "height": 378, "title": {"text": "d\u00a0\u00a0=\u00a0\u00a00.25", "offset": -42.3, "dx": 10},
     "layer": [
       {"data": {"values": [{}]}, "mark": {"type": "rule", "color": "#d9d9d9", "strokeWidth": 1},
        "encoding": {"x": {"datum": -6.21, "type": "quantitative", "scale": {"domain": [-9.054, 102.33], "nice": false, "zero": false}}}},
       {"data": {"values": [{}]}, "mark": {"type": "rule", "color": "#d9d9d9", "strokeWidth": 1.3},
        "encoding": {"x": {"datum": 0.5, "type": "quantitative", "scale": {"domain": [-9.054, 102.33], "nice": false, "zero": false}}, "x2": {"datum": 100.5},
                     "y": {"datum": 0, "type": "quantitative", "scale": {"domain": [-4.598, 5.772], "nice": false, "zero": false}}}},
       {"data": {"name": "r2l"}, "mark": {"type": "line", "color": "#5b9bd5", "strokeWidth": 3, "strokeJoin": "round", "clip": true},
        "encoding": {
          "x": {"field": "t", "type": "quantitative", "scale": {"domain": [-9.054, 102.33], "nice": false, "zero": false},
                "axis": {"title": null, "values": [1,5,9,13,17,21,25,29,33,37,41,45,49,53,57,61,65,69,73,77,81,85,89,93,97], "tickCount": 1000, "format": "d", "offset": -167.6, "labelAngle": 90, "labelOffset": 8.5, "labelPadding": {"expr": "datum.value < 10 ? 20 : datum.value < 100 ? 28 : 36"}, "labelFlush": false, "labelOverlap": false}},
          "y": {"field": "v", "type": "quantitative", "scale": {"domain": [-4.598, 5.772], "nice": false, "zero": false},
                "axis": {"title": null, "values": [-4,-3,-2,-1,0,1,2,3,4], "tickCount": 1000, "offset": -38.4, "labelPadding": 0, "labelExpr": "'' + datum.value", "labelFlush": false, "labelOverlap": false}}
        }}
     ]},
    {"width": 600, "height": 378, "title": {"text": "d\u00a0\u00a0\u00a0\u00a0\u00a0=\u00a0\u00a00.25", "offset": -42.3, "dx": 14},
     "layer": [
       {"data": {"values": [{}]}, "mark": {"type": "rule", "color": "#d9d9d9", "strokeWidth": 1},
        "encoding": {"x": {"datum": -32.84, "type": "quantitative", "scale": {"domain": [-44.4, 497.1], "nice": false, "zero": false}}}},
       {"data": {"values": [{}]}, "mark": {"type": "rule", "color": "#d9d9d9", "strokeWidth": 1.3, "clip": true},
        "encoding": {"x": {"datum": 0.5, "type": "quantitative", "scale": {"domain": [-44.4, 497.1], "nice": false, "zero": false}}, "x2": {"datum": 500.5},
                     "y": {"datum": 0, "type": "quantitative", "scale": {"domain": [-6.735, 8.675], "nice": false, "zero": false}}}},
       {"data": {"name": "r2r"}, "mark": {"type": "line", "color": "#5b9bd5", "strokeWidth": 2.6, "strokeJoin": "round", "clip": true},
        "encoding": {
          "x": {"field": "t", "type": "quantitative", "scale": {"domain": [-44.4, 497.1], "nice": false, "zero": false},
                "axis": {"title": null, "values": [1,19,37,55,73,91,109,127,145,163,181,199,217,235,253,271,289,307,325,343,361,379,397,415,433,451,469,487], "tickCount": 1000, "format": "d", "offset": -165.2, "labelAngle": 90, "labelOffset": 8.5, "labelPadding": {"expr": "datum.value < 10 ? 20 : datum.value < 100 ? 28 : 36"}, "labelFlush": false, "labelOverlap": false}},
          "y": {"field": "v", "type": "quantitative", "scale": {"domain": [-6.735, 8.675], "nice": false, "zero": false},
                "axis": {"title": null, "values": [-6,-4,-2,0,2,4,6], "tickCount": 1000, "offset": -36, "labelPadding": 0, "labelExpr": "'' + datum.value", "labelFlush": false, "labelOverlap": false}}
        }}
     ]},
    {"width": 596, "height": 378, "title": {"text": "d\u00a0\u00a0=\u00a0\u00a00.75", "offset": -42, "dx": 10},
     "layer": [
       {"data": {"values": [{}]}, "mark": {"type": "rule", "color": "#d9d9d9", "strokeWidth": 1},
        "encoding": {"x": {"datum": -6.21, "type": "quantitative", "scale": {"domain": [-9.054, 102.33], "nice": false, "zero": false}}}},
       {"data": {"values": [{}]}, "mark": {"type": "rule", "color": "#d9d9d9", "strokeWidth": 1.3},
        "encoding": {"x": {"datum": 0.5, "type": "quantitative", "scale": {"domain": [-9.054, 102.33], "nice": false, "zero": false}}, "x2": {"datum": 100.5},
                     "y": {"datum": 0, "type": "quantitative", "scale": {"domain": [-7.105, 11.103], "nice": false, "zero": false}}}},
       {"data": {"name": "r3l"}, "mark": {"type": "line", "color": "#5b9bd5", "strokeWidth": 3, "strokeJoin": "round", "clip": true},
        "encoding": {
          "x": {"field": "t", "type": "quantitative", "scale": {"domain": [-9.054, 102.33], "nice": false, "zero": false},
                "axis": {"title": null, "values": [1,5,9,13,17,21,25,29,33,37,41,45,49,53,57,61,65,69,73,77,81,85,89,93,97], "tickCount": 1000, "format": "d", "offset": -147.5, "labelAngle": 90, "labelOffset": 8.5, "labelPadding": {"expr": "datum.value < 10 ? 20 : datum.value < 100 ? 28 : 36"}, "labelFlush": false, "labelOverlap": false}},
          "y": {"field": "v", "type": "quantitative", "scale": {"domain": [-7.105, 11.103], "nice": false, "zero": false},
                "axis": {"title": null, "values": [-6,-4,-2,0,2,4,6,8], "tickCount": 1000, "offset": -38.4, "labelPadding": 0, "labelExpr": "'' + datum.value", "labelFlush": false, "labelOverlap": false}}
        }}
     ]},
    {"width": 600, "height": 378, "title": {"text": "d\u00a0\u00a0=\u00a0\u00a00.75", "offset": -42, "dx": 8},
     "layer": [
       {"data": {"values": [{}]}, "mark": {"type": "rule", "color": "#d9d9d9", "strokeWidth": 1},
        "encoding": {"x": {"datum": -33.43, "type": "quantitative", "scale": {"domain": [-45.85, 514.07], "nice": false, "zero": false}}}},
       {"data": {"values": [{}]}, "mark": {"type": "rule", "color": "#d9d9d9", "strokeWidth": 1.3, "clip": true},
        "encoding": {"x": {"datum": 0.5, "type": "quantitative", "scale": {"domain": [-45.85, 514.07], "nice": false, "zero": false}}, "x2": {"datum": 500.5},
                     "y": {"datum": 0, "type": "quantitative", "scale": {"domain": [-5.145, 13.064], "nice": false, "zero": false}}}},
       {"data": {"name": "r3r"}, "mark": {"type": "line", "color": "#5b9bd5", "strokeWidth": 2.8, "strokeJoin": "round", "clip": true},
        "encoding": {
          "x": {"field": "t", "type": "quantitative", "scale": {"domain": [-45.85, 514.07], "nice": false, "zero": false},
                "axis": {"title": null, "values": [1,19,37,55,73,91,109,127,145,163,181,199,217,235,253,271,289,307,325,343,361,379,397,415,433,451,469,487], "tickCount": 1000, "format": "d", "offset": -106.8, "labelAngle": 90, "labelOffset": 8.5, "labelPadding": {"expr": "datum.value < 10 ? 20 : datum.value < 100 ? 28 : 36"}, "labelFlush": false, "labelOverlap": false}},
          "y": {"field": "v", "type": "quantitative", "scale": {"domain": [-5.145, 13.064], "nice": false, "zero": false},
                "axis": {"title": null, "values": [-4,-2,0,2,4,6,8,10], "tickCount": 1000, "offset": -38, "labelPadding": 0, "labelExpr": "'' + datum.value", "labelFlush": false, "labelOverlap": false}}
        }}
     ]},
    {"width": 596, "height": 378, "title": {"text": "d\u00a0\u00a0=\u00a0\u00a01", "offset": -41.7, "dx": 10},
     "layer": [
       {"data": {"values": [{}]}, "mark": {"type": "rule", "color": "#d9d9d9", "strokeWidth": 1},
        "encoding": {"x": {"datum": -7.48, "type": "quantitative", "scale": {"domain": [-10.36, 102.52], "nice": false, "zero": false}}}},
       {"data": {"values": [{}]}, "mark": {"type": "rule", "color": "#d9d9d9", "strokeWidth": 1.3},
        "encoding": {"x": {"datum": 0.5, "type": "quantitative", "scale": {"domain": [-10.36, 102.52], "nice": false, "zero": false}}, "x2": {"datum": 100.5},
                     "y": {"datum": 0, "type": "quantitative", "scale": {"domain": [-12.47, 26.551], "nice": false, "zero": false}}}},
       {"data": {"name": "r4l"}, "mark": {"type": "line", "color": "#5b9bd5", "strokeWidth": 3, "strokeJoin": "round", "clip": true},
        "encoding": {
          "x": {"field": "t", "type": "quantitative", "scale": {"domain": [-10.36, 102.52], "nice": false, "zero": false},
                "axis": {"title": null, "values": [1,5,9,13,17,21,25,29,33,37,41,45,49,53,57,61,65,69,73,77,81,85,89,93,97], "tickCount": 1000, "format": "d", "offset": -120.8, "labelAngle": 90, "labelOffset": 8.5, "labelPadding": {"expr": "datum.value < 10 ? 20 : datum.value < 100 ? 28 : 36"}, "labelFlush": false, "labelOverlap": false}},
          "y": {"field": "v", "type": "quantitative", "scale": {"domain": [-12.47, 26.551], "nice": false, "zero": false},
                "axis": {"title": null, "values": [-10,-5,0,5,10,15,20], "tickCount": 1000, "offset": -45, "labelPadding": 0, "labelExpr": "'' + datum.value", "labelFlush": false, "labelOverlap": false}}
        }}
     ]},
    {"width": 600, "height": 378, "title": {"text": "d\u00a0\u00a0=\u00a0\u00a01", "offset": -42.7, "dx": 9},
     "layer": [
       {"data": {"values": [{}]}, "mark": {"type": "rule", "color": "#d9d9d9", "strokeWidth": 1},
        "encoding": {"x": {"datum": -35.8, "type": "quantitative", "scale": {"domain": [-47.79, 514.1], "nice": false, "zero": false}}}},
       {"data": {"values": [{}]}, "mark": {"type": "rule", "color": "#d9d9d9", "strokeWidth": 1.3, "clip": true},
        "encoding": {"x": {"datum": 0.5, "type": "quantitative", "scale": {"domain": [-47.79, 514.1], "nice": false, "zero": false}}, "x2": {"datum": 500.5},
                     "y": {"datum": 0, "type": "quantitative", "scale": {"domain": [-8.041, 43.918], "nice": false, "zero": false}}}},
       {"data": {"name": "r4r"}, "mark": {"type": "line", "color": "#5b9bd5", "strokeWidth": 2.8, "strokeJoin": "round", "clip": true},
        "encoding": {
          "x": {"field": "t", "type": "quantitative", "scale": {"domain": [-47.79, 514.1], "nice": false, "zero": false},
                "axis": {"title": null, "values": [1,19,37,55,73,91,109,127,145,163,181,199,217,235,253,271,289,307,325,343,361,379,397,415,433,451,469,487], "tickCount": 1000, "format": "d", "offset": -58.5, "labelAngle": 90, "labelOffset": 8.5, "labelPadding": {"expr": "datum.value < 10 ? 20 : datum.value < 100 ? 28 : 36"}, "labelFlush": false, "labelOverlap": false}},
          "y": {"field": "v", "type": "quantitative", "scale": {"domain": [-8.041, 43.918], "nice": false, "zero": false},
                "axis": {"title": null, "values": [-5,0,5,10,15,20,25,30,35], "tickCount": 1000, "offset": -38, "labelPadding": 0, "labelExpr": "'' + datum.value", "labelFlush": false, "labelOverlap": false}}
        }}
     ]}
  ]
}
